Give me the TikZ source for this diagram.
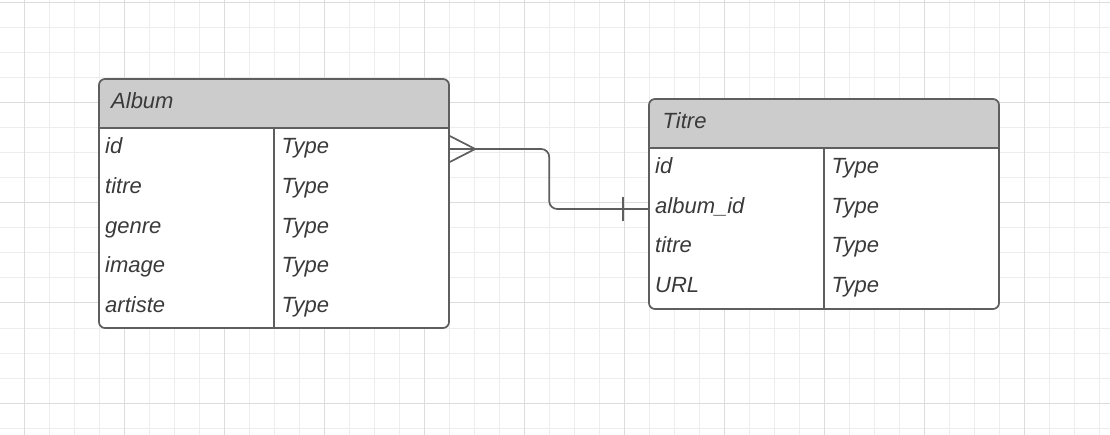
\documentclass[tikz,border=0pt]{standalone}
\usepackage{fontspec}
\setmainfont{Liberation Sans}
\usetikzlibrary{calc}
\definecolor{gridminor}{HTML}{EDEDED}
\definecolor{gridmajor}{HTML}{DCDCDC}
\definecolor{linec}{HTML}{5E5E5E}
\definecolor{hdrc}{HTML}{CCCCCC}
\definecolor{txtc}{HTML}{3A3A3A}
\begin{document}
\begin{tikzpicture}[x=1pt,y=-1pt,
  minorline/.style={draw=gridminor, line width=1pt},
  majorline/.style={draw=gridmajor, line width=1pt},
  tablebox/.style={draw=linec, line width=1.7pt, rounded corners=6pt, fill=white,
    minimum width=350pt, inner sep=0pt,
    path picture={\fill[hdrc] (path picture bounding box.north west) rectangle ([yshift=-50pt]path picture bounding box.north east);}},
  rowbox/.style={minimum width=350pt, minimum height=40pt, inner sep=0pt},
  lbl/.style={anchor=base west, inner sep=0pt, text=txtc, font=\fontsize{22}{25}\selectfont\itshape},
  conn/.style={draw=linec, line width=1.7pt},
  divider/.style={draw=linec, line width=1.7pt}]
\useasboundingbox (0,0) rectangle (1110,435);
\fill[white] (0,0) rectangle (1110,435);
% grid
\foreach \x in {24,49,...,1110} \draw[minorline] (\x,0) -- (\x,435);
\foreach \y in {3,28,...,435} \draw[minorline] (0,\y) -- (1110,\y);
\foreach \x in {24,124,...,1110} \draw[majorline] (\x,0) -- (\x,435);
\foreach \y in {3,103,...,435} \draw[majorline] (0,\y) -- (1110,\y);

% Album table
\node[tablebox, minimum height=249pt] (album) at (274,203.5) {};
\draw[divider] ($(album.north west)+(0,50)$) -- ($(album.north east)+(0,50)$);
\draw[divider] ($(album.north)+(0,50)$) -- (album.south);
\node[lbl] (albumhead) at (111,109) {Album};
\node[rowbox] (a1) at (274,149) {};
\foreach \k/\f in {0/id,1/titre,2/genre,3/image,4/artiste}{
  \node[lbl] (a-\f-n) at (105,{154+39.6*\k}) {\f};
  \node[lbl] (a-\f-t) at (281.5,{154+39.6*\k}) {Type};
}

% Titre table
\node[tablebox, minimum height=210pt] (titre) at (824,204) {};
\draw[divider] ($(titre.north west)+(0,50)$) -- ($(titre.north east)+(0,50)$);
\draw[divider] ($(titre.north)+(0,50)$) -- (titre.south);
\node[lbl] (titrehead) at (662.5,129) {Titre};
\node[rowbox] (t2) at (824,209) {};
\foreach \k/\f in {0/id,1/album\_id,2/titre,3/URL}{
  \node[lbl] (t-\k-n) at (655,{174+39.5*\k}) {\f};
  \node[lbl] (t-\k-t) at (831.5,{174+39.5*\k}) {Type};
}

% connector
\draw[conn, rounded corners=8pt] (a1.east) -- ++(100,0) |- (t2.west);
\draw[conn] ($(a1.east)+(0,-13.3)$) -- ($(a1.east)+(26,0)$) -- ($(a1.east)+(0,13.3)$);
\draw[conn] ($(t2.west)+(-26,-12.3)$) -- ($(t2.west)+(-26,12.3)$);
\end{tikzpicture}
\end{document}
